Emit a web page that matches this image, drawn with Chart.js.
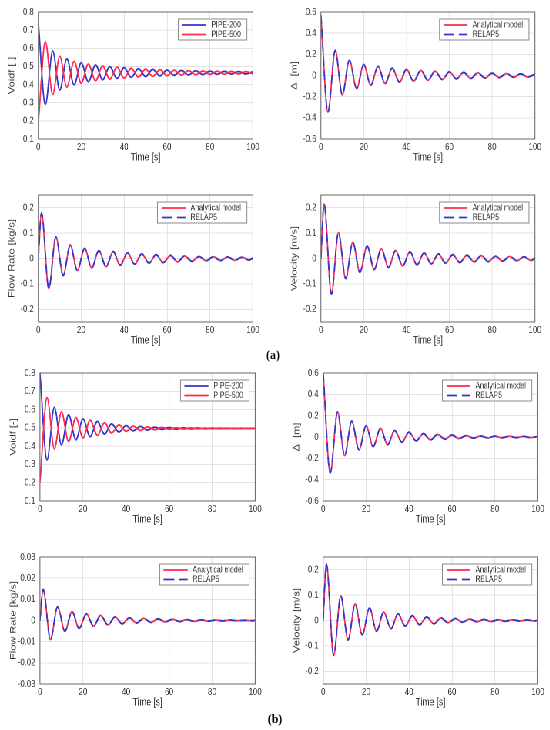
<!DOCTYPE html>
<html>
<head>
<meta charset="utf-8">
<script src="https://cdn.jsdelivr.net/npm/chart.js@4.4.0/dist/chart.umd.min.js"></script>
<style>
  html, body { margin: 0; padding: 0; background: #fff; }
  body { width: 550px; height: 730px; position: relative; overflow: hidden; }
  #fig { position: absolute; left: 0; top: 0; height: 730px; transform-origin: 0 0; }
  .panel { position: absolute; }
  .tag { position: absolute; font: bold 12px "Liberation Serif", "Times New Roman", serif; color: #000; transform: translate(-50%, -50%); }
</style>
</head>
<body>
<div id="fig"></div>
<div class="tag" style="left:273px;top:355px">(a)</div>
<div class="tag" style="left:275px;top:719px">(b)</div>
<script>
// the source figure is squeezed sideways, so draw wider and squash it back
const SX = 0.77;

// times (s) of the turning points
const tVoid = [0, 3.3, 6.7, 10, 13.3, 16.7, 20, 23.3, 26.7, 30, 33.3, 36.7, 40, 43.3, 46.7, 50,
  53.3, 56.7, 60, 63.3, 66.7, 70, 73.3, 76.7, 80, 83.3, 86.7, 90, 93.3, 96.7, 100];
const tFlow = [0, 1.5, 4.9, 8.2, 11.6, 14.9, 18.2, 21.6, 24.9, 28.2, 31.6, 34.9, 38.2, 41.6, 44.9, 48.2,
  51.6, 54.9, 58.2, 61.6, 64.9, 68.2, 71.6, 74.9, 78.2, 81.6, 84.9, 88.2, 91.6, 94.9, 98.2, 100];

// (a) void fraction
const voidPipe200A = [0.745, 0.290, 0.585, 0.370, 0.542, 0.399, 0.521, 0.416, 0.508, 0.427, 0.499, 0.434,
  0.493, 0.440, 0.488, 0.444, 0.484, 0.448, 0.480, 0.451, 0.478, 0.453, 0.476, 0.455, 0.474, 0.4565,
  0.473, 0.4575, 0.472, 0.4585, 0.471];
const voidPipe500A = [0.185, 0.635, 0.345, 0.556, 0.386, 0.527, 0.408, 0.513, 0.421, 0.503, 0.430, 0.496,
  0.436, 0.490, 0.441, 0.486, 0.445, 0.482, 0.449, 0.479, 0.452, 0.477, 0.454, 0.475, 0.456, 0.4735,
  0.457, 0.4725, 0.458, 0.4715, 0.459];
// (a) level difference
const deltaA = [0.57, -0.345, 0.238, -0.184, 0.143, -0.122, 0.104, -0.092, 0.086, -0.075, 0.070, -0.062,
  0.058, -0.053, 0.048, -0.045, 0.041, -0.038, 0.035, -0.032, 0.030, -0.028, 0.026, -0.024, 0.022,
  -0.020, 0.019, -0.017, 0.016, -0.014, 0.012];
// (a) flow rate and velocity
const flowA = [0, 0.179, -0.118, 0.085, -0.067, 0.053, -0.047, 0.040, -0.037, 0.031, -0.032, 0.027,
  -0.026, 0.022, -0.022, 0.018, -0.018, 0.015, -0.016, 0.012, -0.013, 0.010, -0.011, 0.008, -0.009,
  0.007, -0.008, 0.006, -0.007, 0.005, -0.006, 0.002];
const velA = [0, 0.214, -0.140, 0.102, -0.079, 0.064, -0.054, 0.049, -0.043, 0.038, -0.035, 0.031,
  -0.029, 0.026, -0.025, 0.022, -0.021, 0.018, -0.018, 0.015, -0.016, 0.013, -0.013, 0.011, -0.012,
  0.009, -0.010, 0.008, -0.009, 0.007, -0.008, 0.003];

// (b) void fraction
const voidPipe200B = [0.800, 0.325, 0.612, 0.407, 0.572, 0.435, 0.549, 0.452, 0.535, 0.466, 0.522, 0.477,
  0.513, 0.484, 0.508, 0.488, 0.504, 0.4915, 0.5015, 0.4935, 0.500, 0.4945, 0.499, 0.4953, 0.4985,
  0.4958, 0.498, 0.496, 0.4978, 0.4963, 0.4976];
const voidPipe500B = [0.200, 0.665, 0.385, 0.588, 0.426, 0.556, 0.445, 0.542, 0.459, 0.528, 0.472, 0.517,
  0.481, 0.510, 0.486, 0.506, 0.490, 0.5025, 0.4925, 0.5005, 0.494, 0.4995, 0.495, 0.4987, 0.4955,
  0.4982, 0.496, 0.4978, 0.4962, 0.4977, 0.4964];
// (b) level difference
const deltaB = [0.60, -0.337, 0.235, -0.174, 0.150, -0.120, 0.105, -0.090, 0.081, -0.072, 0.060, -0.048,
  0.045, -0.036, 0.032, -0.027, 0.024, -0.020, 0.018, -0.015, 0.013, -0.011, 0.010, -0.009, 0.008,
  -0.0075, 0.007, -0.0065, 0.006, -0.0055, 0.005];
// (b) flow rate and velocity
const flowB = [0, 0.0147, -0.0090, 0.0065, -0.0051, 0.0042, -0.0037, 0.0031, -0.0027, 0.0024, -0.0021,
  0.0017, -0.0016, 0.0013, -0.0012, 0.0010, -0.0009, 0.0008, -0.0007, 0.0006, -0.0005, 0.0004, -0.0004,
  0.0003, -0.0003, 0.0002, -0.0002, 0.0002, -0.0001, 0.0001, -0.0001, 0];
const velB = [0, 0.222, -0.137, 0.097, -0.077, 0.065, -0.056, 0.049, -0.042, 0.033, -0.032, 0.026,
  -0.022, 0.019, -0.017, 0.014, -0.013, 0.010, -0.009, 0.008, -0.007, 0.006, -0.005, 0.004, -0.004,
  0.003, -0.003, 0.0025, -0.002, 0.002, -0.0015, 0.0005];

// tick labels
const timeTicks = [0, 20, 40, 60, 80, 100];
const voidTicks = [0.1, 0.2, 0.3, 0.4, 0.5, 0.6, 0.7, 0.8];
const deltaTicks = [-0.6, -0.4, -0.2, 0, 0.2, 0.4, 0.6];
const flowTicksA = [-0.2, -0.1, 0, 0.1, 0.2];
const flowTicksB = [-0.03, -0.02, -0.01, 0, 0.01, 0.02, 0.03];
const velTicks = [-0.2, -0.1, 0, 0.1, 0.2];

const RED = '#ff2a52';
const BLUE = '#3535cc';
const INK = '#333333';
Chart.defaults.font.family = '"Liberation Sans", Arial, Helvetica, sans-serif';
Chart.defaults.color = INK;

function pipeLines(p200, p500) {
  return [
    { label: 'PIPE-200', data: p200, color: BLUE, dash: false },
    { label: 'PIPE-500', data: p500, color: RED, dash: false }
  ];
}
function modelLines(vals) {
  return [
    { label: 'Analytical model', data: vals, color: RED, dash: false },
    { label: 'RELAP5', data: vals, color: BLUE, dash: true }
  ];
}

// plot boxes are [left, top, right, bottom] in page pixels
const panels = [
  { box: [38, 7, 253, 139], yTitle: 'Voidf [-]', yMin: 0.1, yMax: 0.8, yTicks: voidTicks, t: tVoid, lines: pipeLines(voidPipe200A, voidPipe500A) },
  { box: [321, 7, 535, 139], yTitle: 'Δ  [m]', yMin: -0.6, yMax: 0.6, yTicks: deltaTicks, t: tVoid, lines: modelLines(deltaA) },
  { box: [38, 190, 253, 322], yTitle: 'Flow Rate [kg/s]', yMin: -0.25, yMax: 0.25, yTicks: flowTicksA, t: tFlow, lines: modelLines(flowA) },
  { box: [321, 190, 535, 322], yTitle: 'Velocity [m/s]', yMin: -0.25, yMax: 0.25, yTicks: velTicks, t: tFlow, lines: modelLines(velA) },
  { box: [40, 368, 255, 501], yTitle: 'Voidf [-]', yMin: 0.1, yMax: 0.8, yTicks: voidTicks, t: tVoid, lines: pipeLines(voidPipe200B, voidPipe500B) },
  { box: [323, 368, 538, 501], yTitle: 'Δ  [m]', yMin: -0.6, yMax: 0.6, yTicks: deltaTicks, t: tVoid, lines: modelLines(deltaB) },
  { box: [40, 552, 255, 684], yTitle: 'Flow Rate [kg/s]', yMin: -0.03, yMax: 0.03, yTicks: flowTicksB, t: tFlow, lines: modelLines(flowB) },
  { box: [323, 552, 538, 684], yTitle: 'Velocity [m/s]', yMin: -0.25, yMax: 0.25, yTicks: velTicks, t: tFlow, lines: modelLines(velB) }
];

// axes frame + matlab style legend box in the top right corner
const frameLegend = {
  id: 'frameLegend',
  afterDatasetsDraw(chart) {
    const items = chart.options.plugins.frameLegend.items;
    const ctx = chart.ctx;
    const a = chart.chartArea;
    ctx.save();
    ctx.strokeStyle = '#666';
    ctx.lineWidth = 1;
    ctx.setLineDash([]);
    ctx.strokeRect(a.left, a.top, a.right - a.left, a.bottom - a.top);

    ctx.font = '9px "Liberation Sans", Arial, sans-serif';
    const textW = Math.max(...items.map(it => ctx.measureText(it.label).width));
    const padL = 4 / SX, lineLen = 24 / SX, gap = 5 / SX, padR = 6 / SX;
    const w = padL + lineLen + gap + textW + padR;
    const h = 21;
    const x = a.right - 6 / SX - w;
    const y = a.top + 7;
    ctx.fillStyle = '#fff';
    ctx.fillRect(x, y, w, h);
    ctx.strokeStyle = '#8a8a8a';
    ctx.strokeRect(x, y, w, h);
    items.forEach((it, i) => {
      const ly = y + 6 + i * 9.5;
      ctx.strokeStyle = it.color;
      ctx.lineWidth = 1.8;
      ctx.setLineDash(it.dash ? [14, 6] : []);
      ctx.beginPath();
      ctx.moveTo(x + padL, ly);
      ctx.lineTo(x + padL + lineLen, ly);
      ctx.stroke();
      ctx.fillStyle = INK;
      ctx.textAlign = 'left';
      ctx.textBaseline = 'middle';
      ctx.fillText(it.label, x + padL + lineLen + gap, ly);
    });
    ctx.restore();
  }
};

function fmt(v) {
  return String(Number(v.toFixed(4)));
}

const fig = document.getElementById('fig');
fig.style.width = (550 / SX) + 'px';
fig.style.transform = 'scaleX(' + SX + ')';

panels.forEach(function (p) {
  const [L, T, R, B] = p.box;
  const axisW = 36, padTop = 7, padRight = 12, axisH = 30;
  const wrap = document.createElement('div');
  wrap.className = 'panel';
  wrap.style.left = ((L - axisW) / SX) + 'px';
  wrap.style.top = (T - padTop) + 'px';
  wrap.style.width = ((axisW + R - L + padRight) / SX) + 'px';
  wrap.style.height = (padTop + B - T + axisH) + 'px';
  const canvas = document.createElement('canvas');
  wrap.appendChild(canvas);
  fig.appendChild(wrap);

  const datasets = p.lines.map(function (ln, i) {
    return {
      label: ln.label,
      data: p.t.map((x, k) => ({ x: x, y: ln.data[k] })),
      borderColor: ln.color,
      borderWidth: 1.8,
      borderDash: ln.dash ? [9, 5] : [],
      pointRadius: 0,
      fill: false,
      cubicInterpolationMode: 'monotone',
      order: p.lines.length - i
    };
  });

  new Chart(canvas, {
    type: 'line',
    data: { datasets: datasets },
    options: {
      responsive: true,
      maintainAspectRatio: false,
      animation: false,
      devicePixelRatio: 2,
      layout: { padding: { left: 0, top: padTop, right: padRight / SX, bottom: 0 } },
      plugins: {
        legend: { display: false },
        tooltip: { enabled: false },
        frameLegend: { items: p.lines }
      },
      scales: {
        x: {
          type: 'linear',
          min: 0,
          max: 100,
          afterBuildTicks: s => { s.ticks = timeTicks.map(v => ({ value: v })); },
          afterFit: s => { s.height = axisH; },
          grid: { color: '#e2e2e2', drawTicks: false },
          border: { display: false },
          ticks: { padding: 2, font: { size: 10 }, callback: v => fmt(v) },
          title: { display: true, text: 'Time [s]', font: { size: 11 }, padding: { top: 0, bottom: 5 } }
        },
        y: {
          type: 'linear',
          min: p.yMin,
          max: p.yMax,
          afterBuildTicks: s => { s.ticks = p.yTicks.map(v => ({ value: v })); },
          afterFit: s => { s.width = axisW / SX; },
          grid: { color: '#e2e2e2', drawTicks: false },
          border: { display: false },
          ticks: { padding: 6, font: { size: 10 }, callback: v => fmt(v) },
          title: { display: true, text: p.yTitle, font: { size: 11 }, padding: { top: 6, bottom: 0 } }
        }
      }
    },
    plugins: [frameLegend]
  });
});
</script>
</body>
</html>
